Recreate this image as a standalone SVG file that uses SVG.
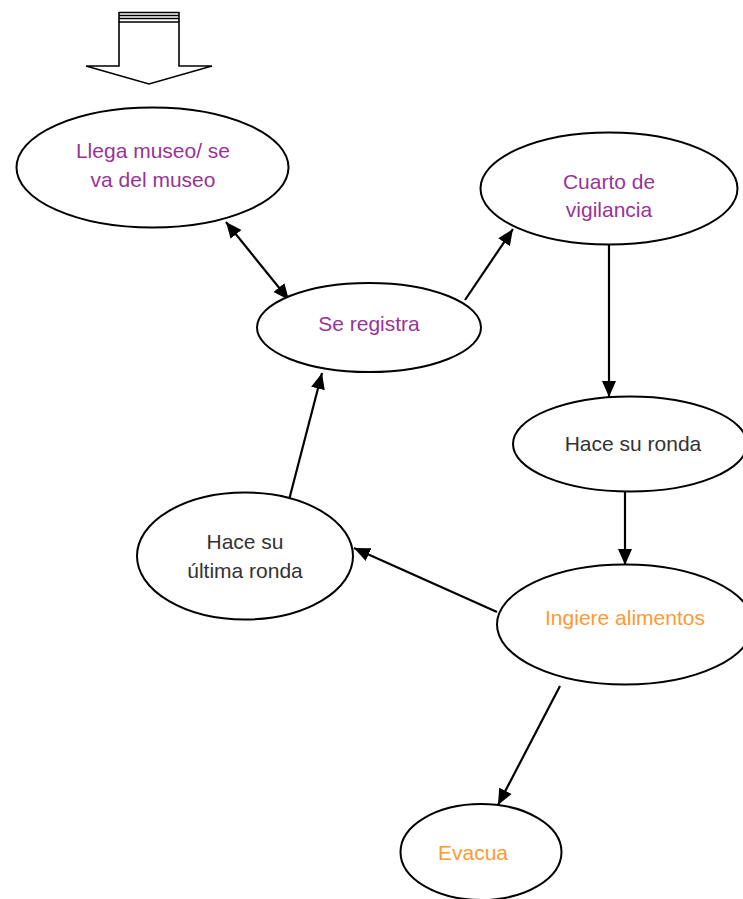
<svg xmlns="http://www.w3.org/2000/svg" width="743" height="899" viewBox="0 0 743 899">
<style>
.node ellipse{fill:#fff;stroke:#000;stroke-width:2}
text{font-family:"Liberation Sans",Arial,sans-serif;font-size:21px;text-anchor:middle}
.p{fill:#993399}.o{fill:#FF9933}.d{fill:#333333}
.edge{stroke:#000;stroke-width:2.2;fill:none;marker-end:url(#ah)}
</style>
<defs>
<marker id="ah" markerUnits="userSpaceOnUse" markerWidth="17" markerHeight="15" refX="16" refY="7" orient="auto-start-reverse" viewBox="0 0 17 14">
<path d="M0,0 L16,7 L0,14 z" fill="#000"/>
</marker>
</defs>
<rect width="743" height="899" fill="#fff"/>
<g id="start-arrow" fill="#fff" stroke="#000" stroke-width="1.6">
<path d="M119,22 L179,22 L179,66 L212,66 L149,84 L86,66 L119,66 Z"/>
<line x1="119" y1="12.5" x2="179" y2="12.5" stroke-width="1.5"/>
<line x1="119" y1="15.5" x2="179" y2="15.5" stroke-width="1.5"/>
<line x1="119" y1="18.5" x2="179" y2="18.5" stroke-width="1.5"/>
<line x1="119" y1="12" x2="119" y2="22"/>
<line x1="179" y1="12" x2="179" y2="22"/>
</g>
<g id="connectors">
<path class="edge" d="M226,222 L289,300" marker-start="url(#ah)"/>
<path class="edge" d="M465,300 L513,229"/>
<path class="edge" d="M609,245 L609,397"/>
<path class="edge" d="M625,492 L625,565"/>
<path class="edge" d="M497,612 L354,548"/>
<path class="edge" d="M289,500 L322,373"/>
<path class="edge" d="M560,686 L498,805"/>
</g>
<g id="llega" class="node">
<ellipse cx="152.5" cy="167.5" rx="136" ry="60"/>
<text class="p" x="153" y="158">Llega museo/ se</text>
<text class="p" x="153" y="187">va del museo</text>
</g>
<g id="cuarto" class="node">
<ellipse cx="609" cy="188.5" rx="128.5" ry="56"/>
<text class="p" x="609" y="189">Cuarto de</text>
<text class="p" x="609" y="217">vigilancia</text>
</g>
<g id="registra" class="node">
<ellipse cx="369" cy="327.5" rx="112" ry="44.5"/>
<text class="p" x="369" y="331">Se registra</text>
</g>
<g id="ronda" class="node">
<ellipse cx="630" cy="444" rx="117" ry="47.5"/>
<text class="d" x="633" y="451">Hace su ronda</text>
</g>
<g id="ingiere" class="node">
<ellipse cx="625" cy="624.5" rx="128" ry="60"/>
<text class="o" x="625" y="625">Ingiere alimentos</text>
</g>
<g id="ultima" class="node">
<ellipse cx="245" cy="556" rx="108" ry="63.5"/>
<text class="d" x="245" y="549">Hace su</text>
<text class="d" x="245" y="578">última ronda</text>
</g>
<g id="evacua" class="node">
<ellipse cx="481" cy="852" rx="80.5" ry="48"/>
<text class="o" x="473" y="860">Evacua</text>
</g>
</svg>
